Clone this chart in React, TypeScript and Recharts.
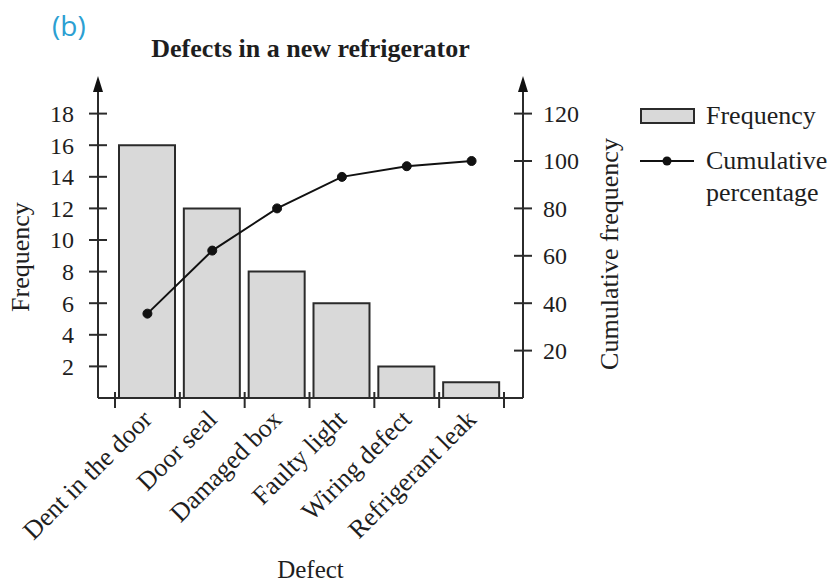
import { ComposedChart, Bar, Line, XAxis, YAxis, Legend } from 'recharts';

const categories = ['Dent in the door', 'Door seal', 'Damaged box', 'Faulty light', 'Wiring defect', 'Refrigerant leak'];
const frequency = [16, 12, 8, 6, 2, 1];
const cumulativePct = [35.6, 62.2, 80, 93.3, 97.8, 100];
const freqTicks = [2, 4, 6, 8, 10, 12, 14, 16, 18];
const pctTicks = [20, 40, 60, 80, 100, 120];

const data = categories.map((name, i) => ({
    name,
    frequency: frequency[i],
    cumulative: cumulativePct[i]
}));

const FONT = '"Liberation Serif", "DejaVu Serif", serif';
const INK = '#1e1e1e';
const AXIS = '#2b2b2b';
const LEFT_GAP = 24;
const RIGHT_GAP = 20;

const LeftTick = ({ x, y, payload }: any) => {
    const ax = x + LEFT_GAP;
    return (
        <g>
            <line x1={ax - 9} x2={ax + 9} y1={y} y2={y} stroke={AXIS} strokeWidth={2} />
            <text x={x} y={y} dy="0.35em" textAnchor="end" fontSize={24} fill={INK} fontFamily={FONT}>
                {payload.value}
            </text>
        </g>
    );
};

const RightTick = ({ x, y, payload }: any) => {
    const ax = x - RIGHT_GAP;
    return (
        <g>
            <line x1={ax - 9} x2={ax + 9} y1={y} y2={y} stroke={AXIS} strokeWidth={2} />
            <text x={x} y={y} dy="0.35em" textAnchor="start" fontSize={24} fill={INK} fontFamily={FONT}>
                {payload.value}
            </text>
        </g>
    );
};

const CategoryTick = ({ x, y, payload }: any) => {
    const half = payload.offset || 32.4;
    const isLast = payload.value === categories[categories.length - 1];
    return (
        <g>
            <line x1={x - half} x2={x - half} y1={y - 6} y2={y + 10} stroke={AXIS} strokeWidth={2} />
            {isLast && <line x1={x + half} x2={x + half} y1={y - 6} y2={y + 10} stroke={AXIS} strokeWidth={2} />}
            <text
                transform={`translate(${x + 6},${y + 23}) rotate(-45)`}
                textAnchor="end"
                fontSize={26}
                fill={INK}
                fontFamily={FONT}
            >
                {payload.value}
            </text>
        </g>
    );
};

// axis title + arrowhead on top of the axis line
const axisDecor = (side: 'left' | 'right', title: string) => (props: any) => {
    const vb = props.viewBox || {};
    const ax = side === 'left' ? vb.x + vb.width : vb.x;
    const tx = side === 'left' ? vb.x + 29 : vb.x + 95;
    const ty = side === 'left' ? vb.y + vb.height / 2 + 17 : vb.y + vb.height / 2 + 14;
    return (
        <g>
            <polygon points={`${ax},${vb.y - 6} ${ax - 5},${vb.y + 10} ${ax + 5},${vb.y + 10}`} fill="#111" />
            <text
                transform={`translate(${tx},${ty}) rotate(-90)`}
                textAnchor="middle"
                fontSize={26}
                fill={INK}
                fontFamily={FONT}
            >
                {title}
            </text>
        </g>
    );
};

const LegendContent = ({ payload }: any) => {
    const items = [...(payload || [])].sort((a: any, b: any) => (a.type === 'rect' ? -1 : 0) - (b.type === 'rect' ? -1 : 0));
    return (
        <div style={{ fontFamily: FONT, fontSize: 26, color: INK, width: 192 }}>
            {items.map((entry: any) => (
                <div key={entry.value} style={{ display: 'flex', alignItems: 'flex-start', marginBottom: 13 }}>
                    <svg width={56} height={32} style={{ flex: 'none' }}>
                        {entry.type === 'rect' ? (
                            <rect x={1} y={9} width={53} height={14} fill="#d9d9d9" stroke={AXIS} strokeWidth={2} />
                        ) : (
                            <g>
                                <line x1={0} x2={54} y1={16} y2={16} stroke="#111" strokeWidth={2} />
                                <circle cx={27} cy={16} r={4.5} fill="#111" />
                            </g>
                        )}
                    </svg>
                    <div style={{ marginLeft: 10, lineHeight: '32px', width: 126 }}>{entry.value}</div>
                </div>
            ))}
        </div>
    );
};

const App = () => {
    return (
        <div style={{ position: 'absolute', left: 0, top: 0, width: 832, height: 584, background: '#fff' }}>
            <div style={{ position: 'absolute', left: 52, top: 6, fontFamily: '"Open Sans", sans-serif', fontSize: 28, color: '#2c9fd2' }}>
                (b)
            </div>
            <div style={{ position: 'absolute', left: 98, width: 425, top: 34, textAlign: 'center', fontFamily: FONT, fontWeight: 'bold', fontSize: 26, color: INK }}>
                Defects in a new refrigerator
            </div>
            <ComposedChart
                width={832}
                height={584}
                data={data}
                margin={{ top: 82, right: 229, bottom: 0, left: 0 }}
                barCategoryGap={0}
                style={{ fontFamily: FONT }}
            >
                <XAxis
                    dataKey="name"
                    height={186}
                    interval={0}
                    padding={{ left: 17, right: 19 }}
                    tickLine={false}
                    tickSize={0}
                    tickMargin={0}
                    tick={<CategoryTick />}
                    axisLine={{ stroke: AXIS, strokeWidth: 2 }}
                    label={{ value: 'Defect', position: 'insideBottom', offset: 6, fontSize: 25, fill: INK, fontFamily: FONT }}
                />
                <YAxis
                    yAxisId="left"
                    width={98}
                    domain={[0, 20]}
                    ticks={freqTicks}
                    tickLine={false}
                    tickSize={0}
                    tickMargin={LEFT_GAP}
                    tick={<LeftTick />}
                    axisLine={{ stroke: AXIS, strokeWidth: 2 }}
                    label={axisDecor('left', 'Frequency')}
                />
                <YAxis
                    yAxisId="right"
                    orientation="right"
                    width={80}
                    domain={[0, 400 / 3]}
                    ticks={pctTicks}
                    tickLine={false}
                    tickSize={0}
                    tickMargin={RIGHT_GAP}
                    tick={<RightTick />}
                    axisLine={{ stroke: AXIS, strokeWidth: 2 }}
                    label={axisDecor('right', 'Cumulative frequency')}
                />
                <Legend
                    layout="vertical"
                    align="center"
                    verticalAlign="middle"
                    wrapperStyle={{ left: 640, top: 100 }}
                    content={<LegendContent />}
                />
                <Bar
                    yAxisId="left"
                    dataKey="frequency"
                    name="Frequency"
                    legendType="rect"
                    barSize={56}
                    fill="#d9d9d9"
                    stroke={AXIS}
                    strokeWidth={2}
                    isAnimationActive={false}
                />
                <Line
                    yAxisId="right"
                    dataKey="cumulative"
                    name="Cumulative percentage"
                    legendType="line"
                    type="linear"
                    stroke="#111"
                    strokeWidth={2}
                    dot={{ r: 4.5, fill: '#111', stroke: '#111', strokeWidth: 1 }}
                    isAnimationActive={false}
                />
            </ComposedChart>
        </div>
    );
};

export default App;
